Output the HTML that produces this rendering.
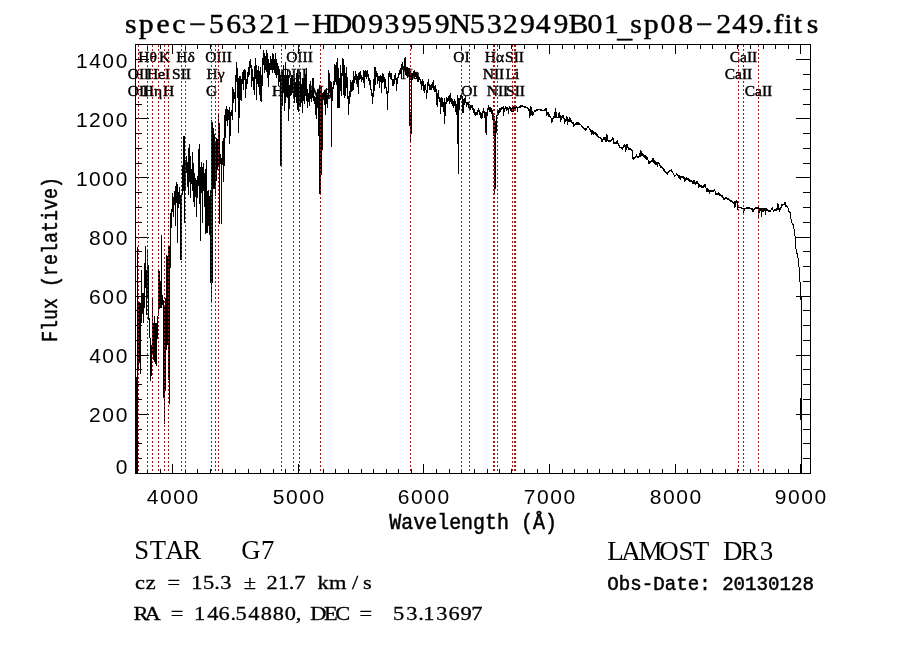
<!DOCTYPE html>
<html><head><meta charset="utf-8"><title>spec-56321-HD093959N532949B01_sp08-249.fits</title>
<style>html,body{margin:0;padding:0;background:#fff;width:900px;height:649px;overflow:hidden}svg{display:block;will-change:transform}</style>
</head><body>
<svg width="900" height="649" viewBox="0 0 900 649">
<rect width="900" height="649" fill="#fff"/>
<path d="M410 76h1v4h-1zM800 398h1v22h-1zM136 377h1v96h-1zM137 247h1v226h-1zM138 303h1v67h-1zM139 302h1v61h-1zM140 303h1v71h-1zM141 270h1v53h-1zM142 293h1v21h-1zM143 293h1v30h-1zM144 263h1v45h-1zM145 246h1v42h-1zM146 270h1v45h-1zM147 251h1v47h-1zM148 265h1v55h-1zM149 318h1v20h-1zM150 338h1v43h-1zM151 345h1v31h-1zM152 297h1v58h-1zM153 323h1v37h-1zM154 316h1v46h-1zM155 323h1v41h-1zM156 323h1v43h-1zM157 316h1v23h-1zM158 271h1v45h-1zM159 271h1v38h-1zM160 281h1v27h-1zM161 235h1v73h-1zM162 295h1v10h-1zM163 300h1v98h-1zM164 305h1v119h-1zM165 298h1v93h-1zM166 255h1v95h-1zM167 256h1v89h-1zM168 246h1v134h-1zM169 246h1v158h-1zM170 213h1v55h-1zM171 209h1v19h-1zM172 193h1v19h-1zM173 197h1v20h-1zM174 191h1v14h-1zM175 186h1v40h-1zM176 182h1v21h-1zM177 184h1v59h-1zM178 192h1v16h-1zM179 187h1v17h-1zM180 195h1v65h-1zM181 194h1v66h-1zM182 165h1v30h-1zM183 136h1v55h-1zM184 136h1v87h-1zM185 160h1v29h-1zM186 156h1v17h-1zM187 162h1v25h-1zM188 148h1v47h-1zM189 144h1v38h-1zM190 156h1v42h-1zM191 169h1v15h-1zM192 152h1v39h-1zM193 163h1v39h-1zM194 173h1v34h-1zM195 178h1v19h-1zM196 180h1v37h-1zM197 176h1v22h-1zM198 149h1v37h-1zM199 144h1v60h-1zM200 167h1v74h-1zM201 162h1v31h-1zM202 167h1v56h-1zM203 163h1v28h-1zM204 173h1v34h-1zM205 169h1v65h-1zM206 160h1v73h-1zM207 191h1v42h-1zM208 190h1v36h-1zM209 196h1v39h-1zM210 190h1v93h-1zM211 120h1v181h-1zM212 122h1v161h-1zM213 128h1v61h-1zM214 134h1v55h-1zM215 143h1v53h-1zM216 138h1v43h-1zM217 139h1v31h-1zM218 115h1v50h-1zM219 123h1v101h-1zM220 154h1v10h-1zM221 158h1v66h-1zM222 141h1v24h-1zM223 138h1v44h-1zM224 115h1v51h-1zM225 109h1v29h-1zM226 106h1v15h-1zM227 109h1v17h-1zM228 110h1v10h-1zM229 107h1v37h-1zM230 112h1v24h-1zM231 110h1v6h-1zM232 87h1v33h-1zM233 89h1v14h-1zM234 92h1v7h-1zM235 75h1v37h-1zM236 62h1v20h-1zM237 68h1v30h-1zM238 78h1v55h-1zM239 76h1v42h-1zM240 76h1v24h-1zM241 79h1v22h-1zM242 72h1v12h-1zM243 70h1v20h-1zM244 69h1v11h-1zM245 70h1v28h-1zM246 79h1v10h-1zM247 72h1v12h-1zM248 67h1v10h-1zM249 61h1v14h-1zM250 59h1v9h-1zM251 65h1v22h-1zM252 69h1v12h-1zM253 77h1v13h-1zM254 66h1v29h-1zM255 58h1v21h-1zM256 65h1v35h-1zM257 70h1v14h-1zM258 66h1v21h-1zM259 71h1v24h-1zM260 67h1v34h-1zM261 75h1v27h-1zM262 58h1v28h-1zM263 50h1v15h-1zM264 53h1v20h-1zM265 56h1v14h-1zM266 50h1v22h-1zM267 53h1v25h-1zM268 59h1v28h-1zM269 63h1v12h-1zM270 56h1v14h-1zM271 59h1v11h-1zM272 53h1v20h-1zM273 54h1v16h-1zM274 59h1v14h-1zM275 53h1v22h-1zM276 59h1v19h-1zM277 63h1v12h-1zM278 66h1v20h-1zM279 69h1v13h-1zM280 75h1v91h-1zM281 75h1v92h-1zM282 72h1v34h-1zM283 65h1v28h-1zM284 75h1v36h-1zM285 62h1v41h-1zM286 75h1v22h-1zM287 70h1v28h-1zM288 75h1v46h-1zM289 85h1v24h-1zM290 78h1v18h-1zM291 75h1v20h-1zM292 75h1v18h-1zM293 72h1v27h-1zM294 78h1v25h-1zM295 82h1v15h-1zM296 73h1v30h-1zM297 70h1v40h-1zM298 75h1v37h-1zM299 81h1v25h-1zM300 72h1v35h-1zM301 84h1v19h-1zM302 78h1v35h-1zM303 79h1v22h-1zM304 73h1v31h-1zM305 74h1v22h-1zM306 68h1v33h-1zM307 89h1v19h-1zM308 93h1v9h-1zM309 84h1v22h-1zM310 81h1v18h-1zM311 90h1v12h-1zM312 78h1v20h-1zM313 78h1v23h-1zM314 96h1v8h-1zM315 97h1v18h-1zM316 93h1v26h-1zM317 89h1v19h-1zM318 91h1v45h-1zM319 85h1v109h-1zM320 90h1v104h-1zM321 96h1v79h-1zM322 93h1v57h-1zM323 92h1v8h-1zM324 90h1v15h-1zM325 91h1v24h-1zM326 88h1v16h-1zM327 95h1v13h-1zM328 70h1v28h-1zM329 73h1v17h-1zM330 81h1v15h-1zM331 82h1v65h-1zM332 87h1v14h-1zM333 81h1v8h-1zM334 64h1v21h-1zM335 65h1v17h-1zM336 62h1v23h-1zM337 58h1v50h-1zM338 68h1v40h-1zM339 78h1v30h-1zM340 65h1v26h-1zM341 73h1v23h-1zM342 58h1v18h-1zM343 59h1v36h-1zM344 65h1v33h-1zM345 73h1v23h-1zM346 67h1v21h-1zM347 77h1v22h-1zM348 96h1v19h-1zM349 91h1v13h-1zM350 80h1v17h-1zM351 82h1v10h-1zM352 80h1v11h-1zM353 71h1v19h-1zM354 76h1v7h-1zM355 71h1v9h-1zM356 74h1v10h-1zM357 76h1v11h-1zM358 73h1v21h-1zM359 72h1v8h-1zM360 71h1v8h-1zM361 75h1v7h-1zM362 77h1v3h-1zM363 70h1v13h-1zM364 71h1v17h-1zM365 70h1v7h-1zM366 71h1v8h-1zM367 70h1v7h-1zM368 74h1v7h-1zM369 78h1v7h-1zM370 80h1v10h-1zM371 89h1v7h-1zM372 93h1v11h-1zM373 79h1v18h-1zM374 67h1v24h-1zM375 67h1v18h-1zM376 71h1v6h-1zM377 73h1v11h-1zM378 76h1v5h-1zM379 76h1v12h-1zM380 75h1v7h-1zM381 76h1v17h-1zM382 73h1v10h-1zM383 74h1v8h-1zM384 77h1v12h-1zM385 79h1v9h-1zM386 87h1v7h-1zM387 91h1v19h-1zM388 73h1v20h-1zM389 71h1v6h-1zM390 73h1v6h-1zM391 73h1v7h-1zM392 79h1v7h-1zM393 79h1v7h-1zM394 75h1v9h-1zM395 73h1v7h-1zM396 78h1v13h-1zM397 77h1v7h-1zM398 73h1v5h-1zM399 70h1v5h-1zM400 68h1v6h-1zM401 64h1v15h-1zM402 62h1v7h-1zM403 66h1v10h-1zM404 58h1v12h-1zM405 57h1v18h-1zM406 67h1v9h-1zM407 67h1v11h-1zM408 68h1v8h-1zM409 68h1v58h-1zM410 112h1v30h-1zM411 73h1v61h-1zM412 73h1v7h-1zM413 71h1v5h-1zM414 70h1v8h-1zM415 72h1v5h-1zM416 73h1v6h-1zM417 73h1v9h-1zM418 76h1v6h-1zM419 77h1v3h-1zM420 79h1v5h-1zM421 81h1v9h-1zM422 79h1v7h-1zM423 81h1v10h-1zM424 85h1v8h-1zM425 84h1v6h-1zM426 90h1v9h-1zM427 82h1v11h-1zM428 79h1v7h-1zM429 84h1v6h-1zM430 85h1v5h-1zM431 84h1v6h-1zM432 82h1v6h-1zM433 80h1v10h-1zM434 86h1v6h-1zM435 85h1v7h-1zM436 89h1v16h-1zM437 93h1v14h-1zM438 90h1v9h-1zM439 97h1v5h-1zM440 98h1v16h-1zM441 97h1v10h-1zM442 98h1v9h-1zM443 102h1v10h-1zM444 98h1v26h-1zM445 102h1v14h-1zM446 97h1v7h-1zM447 98h1v4h-1zM448 96h1v5h-1zM449 95h1v9h-1zM450 93h1v9h-1zM451 98h1v6h-1zM452 99h1v7h-1zM453 101h1v7h-1zM454 99h1v7h-1zM455 101h1v11h-1zM456 104h1v11h-1zM457 95h1v49h-1zM458 98h1v76h-1zM459 98h1v12h-1zM460 95h1v5h-1zM461 93h1v6h-1zM462 96h1v17h-1zM463 99h1v14h-1zM464 98h1v7h-1zM465 96h1v7h-1zM466 102h1v5h-1zM467 102h1v3h-1zM468 102h1v6h-1zM469 104h1v5h-1zM470 105h1v5h-1zM471 105h1v3h-1zM472 105h1v5h-1zM473 108h1v5h-1zM474 109h1v6h-1zM475 112h1v4h-1zM476 112h1v3h-1zM477 110h1v5h-1zM478 108h1v4h-1zM479 110h1v5h-1zM480 112h1v6h-1zM481 113h1v6h-1zM482 111h1v7h-1zM483 108h1v5h-1zM484 111h1v7h-1zM485 112h1v21h-1zM486 112h1v23h-1zM487 108h1v8h-1zM488 105h1v5h-1zM489 107h1v5h-1zM490 107h1v5h-1zM491 108h1v6h-1zM492 110h1v10h-1zM493 113h1v23h-1zM494 116h1v78h-1zM495 121h1v68h-1zM496 115h1v18h-1zM497 111h1v5h-1zM498 110h1v5h-1zM499 108h1v5h-1zM500 108h1v4h-1zM501 107h1v3h-1zM502 107h1v2h-1zM503 106h1v10h-1zM504 108h1v4h-1zM505 106h1v3h-1zM506 107h1v4h-1zM507 107h1v3h-1zM508 108h1v6h-1zM509 106h1v3h-1zM510 107h1v4h-1zM511 108h1v4h-1zM512 107h1v5h-1zM513 106h1v6h-1zM514 105h1v5h-1zM515 105h1v5h-1zM516 106h1v2h-1zM517 107h1v5h-1zM518 107h1v1h-1zM519 106h1v2h-1zM520 105h1v3h-1zM521 105h1v2h-1zM522 105h1v2h-1zM523 106h1v1h-1zM524 106h1v2h-1zM525 106h1v2h-1zM526 107h1v1h-1zM527 107h1v2h-1zM528 108h1v3h-1zM529 109h1v9h-1zM530 106h1v10h-1zM531 107h1v8h-1zM532 111h1v5h-1zM533 112h1v3h-1zM534 110h1v2h-1zM535 110h1v2h-1zM536 109h1v2h-1zM537 109h1v2h-1zM538 109h1v1h-1zM539 109h1v1h-1zM540 109h1v2h-1zM541 109h1v2h-1zM542 110h1v1h-1zM543 110h1v1h-1zM544 109h1v2h-1zM545 108h1v3h-1zM546 108h1v8h-1zM547 112h1v3h-1zM548 112h1v5h-1zM549 114h1v3h-1zM550 116h1v2h-1zM551 118h1v5h-1zM552 118h1v4h-1zM553 116h1v3h-1zM554 112h1v6h-1zM555 108h1v10h-1zM556 112h1v6h-1zM557 117h1v1h-1zM558 113h1v5h-1zM559 112h1v6h-1zM560 115h1v7h-1zM561 116h1v4h-1zM562 115h1v3h-1zM563 115h1v4h-1zM564 118h1v6h-1zM565 119h1v3h-1zM566 116h1v5h-1zM567 117h1v8h-1zM568 119h1v3h-1zM569 117h1v5h-1zM570 118h1v4h-1zM571 120h1v3h-1zM572 122h1v2h-1zM573 122h1v5h-1zM574 124h1v2h-1zM575 123h1v2h-1zM576 122h1v3h-1zM577 122h1v3h-1zM578 122h1v3h-1zM579 123h1v2h-1zM580 124h1v1h-1zM581 125h1v2h-1zM582 126h1v2h-1zM583 127h1v2h-1zM584 128h1v2h-1zM585 128h1v3h-1zM586 128h1v2h-1zM587 126h1v2h-1zM588 126h1v2h-1zM589 128h1v2h-1zM590 129h1v3h-1zM591 130h1v5h-1zM592 130h1v4h-1zM593 131h1v4h-1zM594 132h1v2h-1zM595 132h1v3h-1zM596 133h1v3h-1zM597 134h1v3h-1zM598 136h1v2h-1zM599 137h1v1h-1zM600 137h1v2h-1zM601 138h1v4h-1zM602 139h1v3h-1zM603 137h1v3h-1zM604 137h1v3h-1zM605 137h1v5h-1zM606 134h1v8h-1zM607 135h1v6h-1zM608 140h1v2h-1zM609 140h1v2h-1zM610 140h1v2h-1zM611 139h1v2h-1zM612 137h1v3h-1zM613 138h1v6h-1zM614 142h1v2h-1zM615 142h1v2h-1zM616 141h1v3h-1zM617 140h1v4h-1zM618 143h1v3h-1zM619 145h1v3h-1zM620 147h1v1h-1zM621 147h1v2h-1zM622 147h1v3h-1zM623 145h1v3h-1zM624 144h1v3h-1zM625 145h1v7h-1zM626 144h1v6h-1zM627 144h1v4h-1zM628 147h1v3h-1zM629 148h1v2h-1zM630 148h1v2h-1zM631 149h1v2h-1zM632 150h1v9h-1zM633 157h1v3h-1zM634 157h1v2h-1zM635 156h1v2h-1zM636 154h1v3h-1zM637 156h1v2h-1zM638 156h1v2h-1zM639 153h1v4h-1zM640 150h1v7h-1zM641 151h1v5h-1zM642 153h1v3h-1zM643 154h1v3h-1zM644 155h1v3h-1zM645 155h1v4h-1zM646 156h1v4h-1zM647 157h1v3h-1zM648 160h1v4h-1zM649 161h1v3h-1zM650 161h1v2h-1zM651 160h1v2h-1zM652 158h1v4h-1zM653 158h1v5h-1zM654 160h1v4h-1zM655 161h1v4h-1zM656 162h1v3h-1zM657 162h1v5h-1zM658 162h1v2h-1zM659 163h1v3h-1zM660 165h1v3h-1zM661 166h1v2h-1zM662 167h1v2h-1zM663 168h1v3h-1zM664 169h1v3h-1zM665 171h1v2h-1zM666 172h1v2h-1zM667 172h1v3h-1zM668 171h1v2h-1zM669 170h1v2h-1zM670 170h1v1h-1zM671 169h1v3h-1zM672 171h1v2h-1zM673 173h1v2h-1zM674 175h1v2h-1zM675 175h1v1h-1zM676 173h1v2h-1zM677 174h1v2h-1zM678 175h1v3h-1zM679 175h1v4h-1zM680 176h1v4h-1zM681 176h1v2h-1zM682 176h1v2h-1zM683 176h1v3h-1zM684 177h1v5h-1zM685 178h1v3h-1zM686 177h1v3h-1zM687 178h1v2h-1zM688 178h1v3h-1zM689 179h1v3h-1zM690 180h1v2h-1zM691 180h1v2h-1zM692 181h1v3h-1zM693 180h1v4h-1zM694 180h1v4h-1zM695 182h1v3h-1zM696 181h1v3h-1zM697 181h1v3h-1zM698 183h1v5h-1zM699 184h1v3h-1zM700 185h1v2h-1zM701 185h1v3h-1zM702 186h1v2h-1zM703 185h1v3h-1zM704 184h1v3h-1zM705 184h1v4h-1zM706 188h1v4h-1zM707 188h1v4h-1zM708 189h1v3h-1zM709 190h1v4h-1zM710 190h1v2h-1zM711 190h1v2h-1zM712 190h1v2h-1zM713 190h1v2h-1zM714 189h1v2h-1zM715 191h1v4h-1zM716 193h1v2h-1zM717 193h1v2h-1zM718 192h1v3h-1zM719 193h1v3h-1zM720 194h1v2h-1zM721 195h1v2h-1zM722 195h1v3h-1zM723 197h1v3h-1zM724 198h1v2h-1zM725 197h1v2h-1zM726 197h1v2h-1zM727 198h1v2h-1zM728 198h1v2h-1zM729 199h1v2h-1zM730 200h1v2h-1zM731 200h1v2h-1zM732 201h1v2h-1zM733 202h1v2h-1zM734 201h1v7h-1zM735 201h1v6h-1zM736 200h1v3h-1zM737 201h1v9h-1zM738 206h1v2h-1zM739 207h1v1h-1zM740 207h1v1h-1zM741 207h1v2h-1zM742 208h1v1h-1zM743 208h1v6h-1zM744 208h1v3h-1zM745 208h1v1h-1zM746 207h1v2h-1zM747 207h1v2h-1zM748 207h1v2h-1zM749 207h1v2h-1zM750 208h1v1h-1zM751 208h1v2h-1zM752 208h1v4h-1zM753 209h1v3h-1zM754 208h1v2h-1zM755 207h1v2h-1zM756 207h1v2h-1zM757 207h1v2h-1zM758 207h1v11h-1zM759 208h1v5h-1zM760 208h1v3h-1zM761 208h1v9h-1zM762 208h1v4h-1zM763 208h1v4h-1zM764 208h1v3h-1zM765 208h1v7h-1zM766 208h1v3h-1zM767 209h1v2h-1zM768 210h1v2h-1zM769 210h1v2h-1zM770 210h1v2h-1zM771 208h1v2h-1zM772 207h1v3h-1zM773 210h1v2h-1zM774 209h1v2h-1zM775 209h1v2h-1zM776 208h1v3h-1zM777 203h1v7h-1zM778 204h1v6h-1zM779 208h1v4h-1zM780 207h1v3h-1zM781 204h1v4h-1zM782 204h1v2h-1zM783 204h1v1h-1zM784 202h1v3h-1zM785 202h1v5h-1zM786 205h1v2h-1zM787 206h1v2h-1zM788 208h1v4h-1zM789 211h1v2h-1zM790 212h1v7h-1zM791 219h1v4h-1zM792 223h1v2h-1zM793 224h1v5h-1zM794 229h1v7h-1zM795 236h1v13h-1zM796 249h1v5h-1zM797 253h1v5h-1zM798 258h1v9h-1zM799 267h1v15h-1zM800 282h1v18h-1zM801 296h1v178h-1z" fill="#000" shape-rendering="crispEdges"/>
<path d="M135 44h676v1h-676zM135 473h676v1h-676zM135 44h1v430h-1zM810 44h1v430h-1zM147 469h1v4h-1zM147 45h1v4h-1zM160 469h1v4h-1zM160 45h1v4h-1zM172 464h1v9h-1zM172 45h1v9h-1zM185 469h1v4h-1zM185 45h1v4h-1zM197 469h1v4h-1zM197 45h1v4h-1zM210 469h1v4h-1zM210 45h1v4h-1zM222 469h1v4h-1zM222 45h1v4h-1zM235 469h1v4h-1zM235 45h1v4h-1zM248 469h1v4h-1zM248 45h1v4h-1zM260 469h1v4h-1zM260 45h1v4h-1zM273 469h1v4h-1zM273 45h1v4h-1zM285 469h1v4h-1zM285 45h1v4h-1zM298 464h1v9h-1zM298 45h1v9h-1zM310 469h1v4h-1zM310 45h1v4h-1zM323 469h1v4h-1zM323 45h1v4h-1zM335 469h1v4h-1zM335 45h1v4h-1zM348 469h1v4h-1zM348 45h1v4h-1zM361 469h1v4h-1zM361 45h1v4h-1zM373 469h1v4h-1zM373 45h1v4h-1zM386 469h1v4h-1zM386 45h1v4h-1zM398 469h1v4h-1zM398 45h1v4h-1zM411 469h1v4h-1zM411 45h1v4h-1zM423 464h1v9h-1zM423 45h1v9h-1zM436 469h1v4h-1zM436 45h1v4h-1zM449 469h1v4h-1zM449 45h1v4h-1zM461 469h1v4h-1zM461 45h1v4h-1zM474 469h1v4h-1zM474 45h1v4h-1zM487 469h1v4h-1zM487 45h1v4h-1zM499 469h1v4h-1zM499 45h1v4h-1zM511 469h1v4h-1zM511 45h1v4h-1zM524 469h1v4h-1zM524 45h1v4h-1zM537 469h1v4h-1zM537 45h1v4h-1zM549 464h1v9h-1zM549 45h1v9h-1zM562 469h1v4h-1zM562 45h1v4h-1zM574 469h1v4h-1zM574 45h1v4h-1zM587 469h1v4h-1zM587 45h1v4h-1zM599 469h1v4h-1zM599 45h1v4h-1zM612 469h1v4h-1zM612 45h1v4h-1zM624 469h1v4h-1zM624 45h1v4h-1zM637 469h1v4h-1zM637 45h1v4h-1zM649 469h1v4h-1zM649 45h1v4h-1zM662 469h1v4h-1zM662 45h1v4h-1zM675 464h1v9h-1zM675 45h1v9h-1zM687 469h1v4h-1zM687 45h1v4h-1zM700 469h1v4h-1zM700 45h1v4h-1zM712 469h1v4h-1zM712 45h1v4h-1zM725 469h1v4h-1zM725 45h1v4h-1zM737 469h1v4h-1zM737 45h1v4h-1zM750 469h1v4h-1zM750 45h1v4h-1zM763 469h1v4h-1zM763 45h1v4h-1zM775 469h1v4h-1zM775 45h1v4h-1zM788 469h1v4h-1zM788 45h1v4h-1zM800 464h1v9h-1zM800 45h1v9h-1zM136 458h6v1h-6zM803 458h7v1h-7zM136 443h6v1h-6zM803 443h7v1h-7zM136 429h6v1h-6zM803 429h7v1h-7zM136 414h13v1h-13zM796 414h14v1h-14zM136 399h6v1h-6zM803 399h7v1h-7zM136 384h6v1h-6zM803 384h7v1h-7zM136 369h6v1h-6zM803 369h7v1h-7zM136 355h13v1h-13zM796 355h14v1h-14zM136 340h6v1h-6zM803 340h7v1h-7zM136 325h6v1h-6zM803 325h7v1h-7zM136 310h6v1h-6zM803 310h7v1h-7zM136 296h13v1h-13zM796 296h14v1h-14zM136 281h6v1h-6zM803 281h7v1h-7zM136 266h6v1h-6zM803 266h7v1h-7zM136 251h6v1h-6zM803 251h7v1h-7zM136 237h13v1h-13zM796 237h14v1h-14zM136 222h6v1h-6zM803 222h7v1h-7zM136 207h6v1h-6zM803 207h7v1h-7zM136 192h6v1h-6zM803 192h7v1h-7zM136 177h13v1h-13zM796 177h14v1h-14zM136 163h6v1h-6zM803 163h7v1h-7zM136 148h6v1h-6zM803 148h7v1h-7zM136 133h6v1h-6zM803 133h7v1h-7zM136 118h13v1h-13zM796 118h14v1h-14zM136 104h6v1h-6zM803 104h7v1h-7zM136 89h6v1h-6zM803 89h7v1h-7zM136 74h6v1h-6zM803 74h7v1h-7zM136 59h13v1h-13zM796 59h14v1h-14z" fill="#000" shape-rendering="crispEdges"/>
<text x="146.83 160.06 173.26 186.56" y="503.5" font-family="Liberation Sans, sans-serif" font-weight="normal" font-size="21" xml:space="preserve">4000</text>
<text x="272.78 286.06 299.26 312.56" y="503.5" font-family="Liberation Sans, sans-serif" font-weight="normal" font-size="21" xml:space="preserve">5000</text>
<text x="397.69 411.06 424.26 437.56" y="503.5" font-family="Liberation Sans, sans-serif" font-weight="normal" font-size="21" xml:space="preserve">6000</text>
<text x="523.75 537.06 550.26 563.56" y="503.5" font-family="Liberation Sans, sans-serif" font-weight="normal" font-size="21" xml:space="preserve">7000</text>
<text x="649.76 663.06 676.26 689.56" y="503.5" font-family="Liberation Sans, sans-serif" font-weight="normal" font-size="21" xml:space="preserve">8000</text>
<text x="774.77 788.06 801.26 814.56" y="503.5" font-family="Liberation Sans, sans-serif" font-weight="normal" font-size="21" xml:space="preserve">9000</text>
<text x="115.66" y="473.8" font-family="Liberation Sans, sans-serif" font-weight="normal" font-size="21" xml:space="preserve">0</text>
<text x="89.06 102.36 115.66" y="422.1" font-family="Liberation Sans, sans-serif" font-weight="normal" font-size="21" xml:space="preserve">200</text>
<text x="89.13 102.36 115.66" y="363.1" font-family="Liberation Sans, sans-serif" font-weight="normal" font-size="21" xml:space="preserve">400</text>
<text x="88.99 102.36 115.66" y="304.0" font-family="Liberation Sans, sans-serif" font-weight="normal" font-size="21" xml:space="preserve">600</text>
<text x="89.06 102.36 115.66" y="245.0" font-family="Liberation Sans, sans-serif" font-weight="normal" font-size="21" xml:space="preserve">800</text>
<text x="75.97 89.06 102.36 115.66" y="185.9" font-family="Liberation Sans, sans-serif" font-weight="normal" font-size="21" xml:space="preserve">1000</text>
<text x="75.97 89.06 102.36 115.66" y="126.9" font-family="Liberation Sans, sans-serif" font-weight="normal" font-size="21" xml:space="preserve">1200</text>
<text x="75.97 89.13 102.36 115.66" y="67.8" font-family="Liberation Sans, sans-serif" font-weight="normal" font-size="21" xml:space="preserve">1400</text>
<g font-family="Liberation Serif, serif" font-weight="normal" font-size="15.5" fill="#000" stroke="#000" stroke-width="0.45" text-anchor="middle">
<text x="138.5" y="96.3">OII</text>
<text x="138.5" y="78.7">OII</text>
<text x="147.5" y="61.6">Hθ</text>
<text x="152.5" y="96.3">Hη</text>
<text x="158.5" y="78.7">HeI</text>
<text x="164.5" y="61.6">K</text>
<text x="168.5" y="96.3">H</text>
<text x="181.5" y="78.7">SII</text>
<text x="185.5" y="61.6">Hδ</text>
<text x="211.5" y="96.3">G</text>
<text x="215.5" y="78.7">Hγ</text>
<text x="218.5" y="61.6">OIII</text>
<text x="281.5" y="96.3">Hβ</text>
<text x="293.5" y="78.7">OIII</text>
<text x="299.5" y="61.6">OIII</text>
<text x="320.5" y="96.3">Mg</text>
<text x="410.5" y="78.7">Na</text>
<text x="461.5" y="61.6">OI</text>
<text x="469.5" y="96.3">OI</text>
<text x="493.5" y="78.7">NII</text>
<text x="494.5" y="61.6">Hα</text>
<text x="497.5" y="96.3">NII</text>
<text x="512.5" y="78.7">Li</text>
<text x="514.5" y="61.6">SII</text>
<text x="515.5" y="96.3">SII</text>
<text x="738.5" y="78.7">CaII</text>
<text x="743.5" y="61.6">CaII</text>
<text x="758.5" y="96.3">CaII</text>
</g>
<text x="113.63 126.15 142.18 156.64 171.92 189.95 205.66 219.49 235.67 249.92 266.92 283.58 300.72 319.34 334.73 349.49 365.19 379.36 395.19 408.35 427.31 442.68 457.27 472.69 487.06 503.14 516.72 534.16 549.01 561.20 572.86 585.15 600.52 616.66 632.60 651.13 665.70 680.64 695.26 703.27 713.04 721.65 733.32" y="33.1" font-family="Liberation Serif, serif" font-weight="normal" font-size="27" xml:space="preserve" transform="scale(1.1,1)" stroke="#000" stroke-width="0.45" dy="0 0 0 0 0 0 0 0 0 0 0 0 0 0 0 0 0 0 0 0 0 0 0 0 0 0 0 0 0 3.5 -3.5 0 0 0 0 0 0 0 0 0 0 0 0">spec−56321−HD093959N532949B01_sp08−249.fits</text>
<text x="389.3" y="529.4" font-family="Liberation Mono, monospace" font-weight="normal" stroke="#000" stroke-width="0.5" font-size="22" textLength="167.6" lengthAdjust="spacingAndGlyphs">Wavelength (Å)</text>
<text transform="translate(57,341.9) rotate(-90)" font-family="Liberation Mono, monospace" font-weight="normal" stroke="#000" stroke-width="0.5" font-size="21.3" textLength="164.8" lengthAdjust="spacingAndGlyphs">Flux (relative)</text>
<text x="134.16 149.73 165.33 183.23 204.22 215.94 227.66 239.38 241.33 261.03" y="559.3" font-family="Liberation Serif, serif" font-weight="normal" font-size="26.7" xml:space="preserve">STAR    G7</text>
<text x="607.18 621.22 638.50 659.25 678.43 692.73 716.75 722.90 740.63 759.63" y="560" font-family="Liberation Serif, serif" font-weight="normal" font-size="27" xml:space="preserve">LAMOST DR3</text>
<text x="117.47 126.64 141.02 145.58 161.28 166.33 176.46 186.26 191.56 206.93 212.00 226.93 231.76 241.81 251.04 255.81 271.13 276.16 286.06 306.12 315.64" y="589.4" font-family="Liberation Serif, serif" font-weight="normal" font-size="19.5" xml:space="preserve" transform="scale(1.15,1)" stroke="#000" stroke-width="0.3">cz = 15.3 ± 21.7 km/s</text>
<text x="116.10 125.72 143.35 148.40 163.91 168.77 180.30 190.04 200.43 204.81 215.96 226.69 237.13 247.56 257.20 268.09 269.85 281.81 291.63 308.04 312.58 327.65 337.22 341.72 353.30 363.65 368.16 379.39 390.04 400.43 409.72" y="620" font-family="Liberation Serif, serif" font-weight="normal" font-size="19.5" xml:space="preserve" transform="scale(1.15,1)" stroke="#000" stroke-width="0.3">RA = 146.54880, DEC =  53.13697</text>
<text x="607.25" y="590.2" font-family="Liberation Mono, monospace" font-weight="normal" stroke="#000" stroke-width="0.5" font-size="20" textLength="206.8" lengthAdjust="spacingAndGlyphs">Obs-Date: 20130128</text>
<path d="M138.5 45V473 M147.5 45V473 M152.5 45V473 M158.5 45V473 M164.5 45V473 M168.5 45V473 M181.5 45V473 M185.5 45V473 M211.5 45V473 M215.5 45V473 M218.5 45V473 M281.5 45V473 M293.5 45V473 M299.5 45V473 M320.5 45V473 M410.5 45V473 M461.5 45V473 M469.5 45V473 M493.5 45V473 M494.5 45V473 M497.5 45V473 M512.5 45V473 M514.5 45V473 M515.5 45V473 M738.5 45V473 M743.5 45V473 M758.5 45V473" stroke="#a31616" stroke-width="1" stroke-dasharray="2 2" fill="none" shape-rendering="crispEdges"/>
</svg>
</body></html>
